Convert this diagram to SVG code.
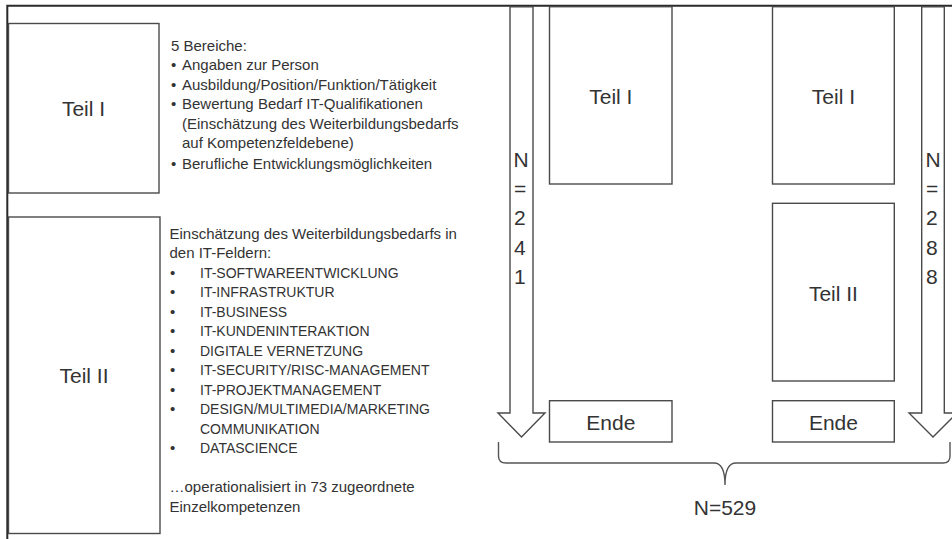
<svg xmlns="http://www.w3.org/2000/svg" width="952" height="539" viewBox="0 0 952 539">
  <style>
    .bg { fill: #ffffff; }
    .frame { fill: none; stroke: #2a2a2a; stroke-width: 2; }
    .box { fill: #ffffff; stroke: #4a4a4a; stroke-width: 1.4; }
    .arrow { fill: #ffffff; stroke: #4a4a4a; stroke-width: 1.4; stroke-linejoin: miter; }
    .brace { fill: none; stroke: #555555; stroke-width: 1.4; }
    text { font-family: "Liberation Sans", Arial, sans-serif; fill: #333333; }
    .big { font-size: 21px; }
    .mid { font-size: 21px; text-anchor: middle; }
    .sm { font-size: 15px; }
    .caps { font-size: 14px; }
  </style>
  <rect class="bg" x="0" y="0" width="952" height="539"/>

  <!-- outer frame: top rule and left rule -->
  <path class="frame" d="M7.3,539 V5.7 H952"/>

  <!-- left column: parts description -->
  <g id="teil1-left">
    <rect class="box" x="8.5" y="23.5" width="150.5" height="169.5"/>
    <text class="mid" x="83.5" y="116">Teil I</text>
  </g>
  <g id="teil1-desc">
    <text class="sm" x="171" y="50.5">5 Bereiche:</text>
    <text class="sm" x="171" y="70">•</text><text class="sm" x="182" y="70">Angaben zur Person</text>
    <text class="sm" x="171" y="89.5">•</text><text class="sm" x="182" y="89.5">Ausbildung/Position/Funktion/Tätigkeit</text>
    <text class="sm" x="171" y="109">•</text><text class="sm" x="182" y="109">Bewertung Bedarf IT-Qualifikationen</text>
    <text class="sm" x="182" y="128.5">(Einschätzung des Weiterbildungsbedarfs</text>
    <text class="sm" x="182" y="148">auf Kompetenzfeldebene)</text>
    <text class="sm" x="171" y="169">•</text><text class="sm" x="182" y="169">Berufliche Entwicklungsmöglichkeiten</text>
  </g>

  <g id="teil2-left">
    <rect class="box" x="8.5" y="217" width="151.5" height="316.5"/>
    <text class="mid" x="84" y="383">Teil II</text>
  </g>
  <g id="teil2-desc">
    <text class="sm" x="169.5" y="238.5">Einschätzung des Weiterbildungsbedarfs in</text>
    <text class="sm" x="169.5" y="258">den IT-Feldern:</text>
    <text class="sm" x="170" y="277.5">•</text><text class="caps" x="200" y="277.5">IT-SOFTWAREENTWICKLUNG</text>
    <text class="sm" x="170" y="297">•</text><text class="caps" x="200" y="297">IT-INFRASTRUKTUR</text>
    <text class="sm" x="170" y="316.5">•</text><text class="caps" x="200" y="316.5">IT-BUSINESS</text>
    <text class="sm" x="170" y="336">•</text><text class="caps" x="200" y="336">IT-KUNDENINTERAKTION</text>
    <text class="sm" x="170" y="355.5">•</text><text class="caps" x="200" y="355.5">DIGITALE VERNETZUNG</text>
    <text class="sm" x="170" y="375">•</text><text class="caps" x="200" y="375">IT-SECURITY/RISC-MANAGEMENT</text>
    <text class="sm" x="170" y="394.5">•</text><text class="caps" x="200" y="394.5">IT-PROJEKTMANAGEMENT</text>
    <text class="sm" x="170" y="414">•</text><text class="caps" x="200" y="414">DESIGN/MULTIMEDIA/MARKETING</text>
    <text class="caps" x="200" y="433.5">COMMUNIKATION</text>
    <text class="sm" x="170" y="453">•</text><text class="caps" x="200" y="453">DATASCIENCE</text>
    <text class="sm" x="169.5" y="492">…operationalisiert in 73 zugeordnete</text>
    <text class="sm" x="169.5" y="511.5">Einzelkompetenzen</text>
  </g>

  <!-- right side: two survey paths -->
  <g id="connectors">
    <polygon class="arrow" points="510,6.7 533,6.7 533,413 545,413 521.5,437 498,413 510,413"/>
    <polygon class="arrow" points="921.7,6.7 944.3,6.7 944.3,413 957,413 933,437 909,413 921.7,413"/>
    <path class="brace" d="M498.5,442 V456 Q498.5,463 506,463 H714 Q725,463 725,485 Q725,463 736,463 H943 Q950,463 950,456 V442"/>
  </g>

  <g id="path-a-label">
    <text class="big" x="513.5" y="167">N</text>
    <text class="big" x="514" y="196">=</text>
    <text class="big" x="514" y="225">2</text>
    <text class="big" x="514" y="254.5">4</text>
    <text class="big" x="514" y="283.7">1</text>
  </g>
  <g id="path-b-label">
    <text class="big" x="925.5" y="167">N</text>
    <text class="big" x="926" y="196">=</text>
    <text class="big" x="926" y="225">2</text>
    <text class="big" x="926" y="254.5">8</text>
    <text class="big" x="926" y="283.7">8</text>
  </g>

  <g id="teil1-a">
    <rect class="box" x="549.5" y="6.7" width="122.5" height="177.3"/>
    <text class="mid" x="610.8" y="103.5">Teil I</text>
  </g>
  <g id="ende-a">
    <rect class="box" x="549.5" y="400.7" width="122.5" height="41.3"/>
    <text class="mid" x="610.8" y="430">Ende</text>
  </g>

  <g id="teil1-b">
    <rect class="box" x="772.5" y="6.7" width="121.8" height="177.3"/>
    <text class="mid" x="833.4" y="103.5">Teil I</text>
  </g>
  <g id="teil2-b">
    <rect class="box" x="772.5" y="203.3" width="121.8" height="177.7"/>
    <text class="mid" x="833.4" y="300.5">Teil II</text>
  </g>
  <g id="ende-b">
    <rect class="box" x="772.5" y="400.7" width="121.8" height="41.3"/>
    <text class="mid" x="833.4" y="430">Ende</text>
  </g>

  <g id="total">
    <text class="mid" x="725" y="515">N=529</text>
  </g>
</svg>
